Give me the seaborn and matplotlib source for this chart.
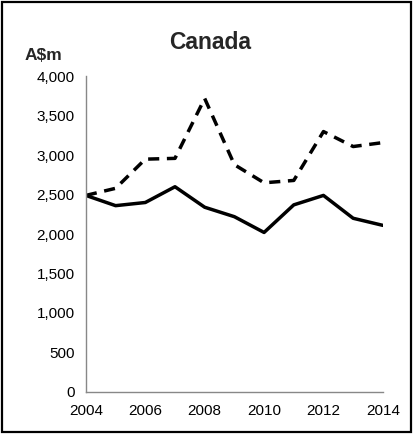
import pandas as pd
import seaborn as sns
import matplotlib.pyplot as plt
from matplotlib.patches import Rectangle
from matplotlib.ticker import FuncFormatter, MultipleLocator

years = list(range(2004, 2015))
solid_vals = [2490, 2360, 2400, 2600, 2340, 2220, 2020, 2370, 2490, 2200, 2110]
dashed_vals = [2490, 2580, 2950, 2960, 3720, 2880, 2650, 2680, 3300, 3110, 3160]

df = pd.concat([
    pd.DataFrame({'year': years, 'value': solid_vals, 'series': 'solid'}),
    pd.DataFrame({'year': years, 'value': dashed_vals, 'series': 'dashed'}),
])

sns.set_style('white')
plt.rcParams['font.family'] = ['Liberation Sans', 'DejaVu Sans']

fig = plt.figure(figsize=(4.13, 4.34), dpi=100)
ax = fig.add_axes([0.208, 0.0975, 0.719, 0.7265])

sns.lineplot(data=df, x='year', y='value', style='series',
             style_order=['solid', 'dashed'],
             dashes={'solid': '', 'dashed': (3.2, 2.2)},
             color='black', linewidth=2.5, legend=False, ax=ax)

ax.set_xlim(2004, 2014)
ax.set_ylim(0, 4000)
ax.set_xticks(range(2004, 2015, 2))
ax.xaxis.set_minor_locator(MultipleLocator(1))
ax.yaxis.set_major_locator(MultipleLocator(500))
ax.yaxis.set_major_formatter(FuncFormatter(lambda v, p: '{:,.0f}'.format(v)))
ax.tick_params(axis='both', which='both', direction='out', color='#888888',
               width=1, labelsize=11, colors='black')
ax.tick_params(axis='x', which='major', length=4, pad=5)
ax.tick_params(axis='x', which='minor', length=4)
ax.tick_params(axis='y', length=4, pad=4)
ax.tick_params(axis='both', which='both', color='#888888')

for side in ['top', 'right']:
    ax.spines[side].set_visible(False)
for side in ['left', 'bottom']:
    ax.spines[side].set_color('#888888')
    ax.spines[side].set_linewidth(1)
ax.set_xlabel('')
ax.set_ylabel('')

fig.text(0.508, 0.902, 'Canada', ha='center', va='center', fontsize=16.5,
         fontweight='bold')
fig.text(0.06, 0.873, 'A$m', ha='left', va='center', fontsize=12.5,
         fontweight='bold')

fig.patches.append(Rectangle((0.006, 0.004), 0.99, 0.991, transform=fig.transFigure,
                             fill=False, edgecolor='black', linewidth=1.6))

fig.savefig('out.png', dpi=100)
